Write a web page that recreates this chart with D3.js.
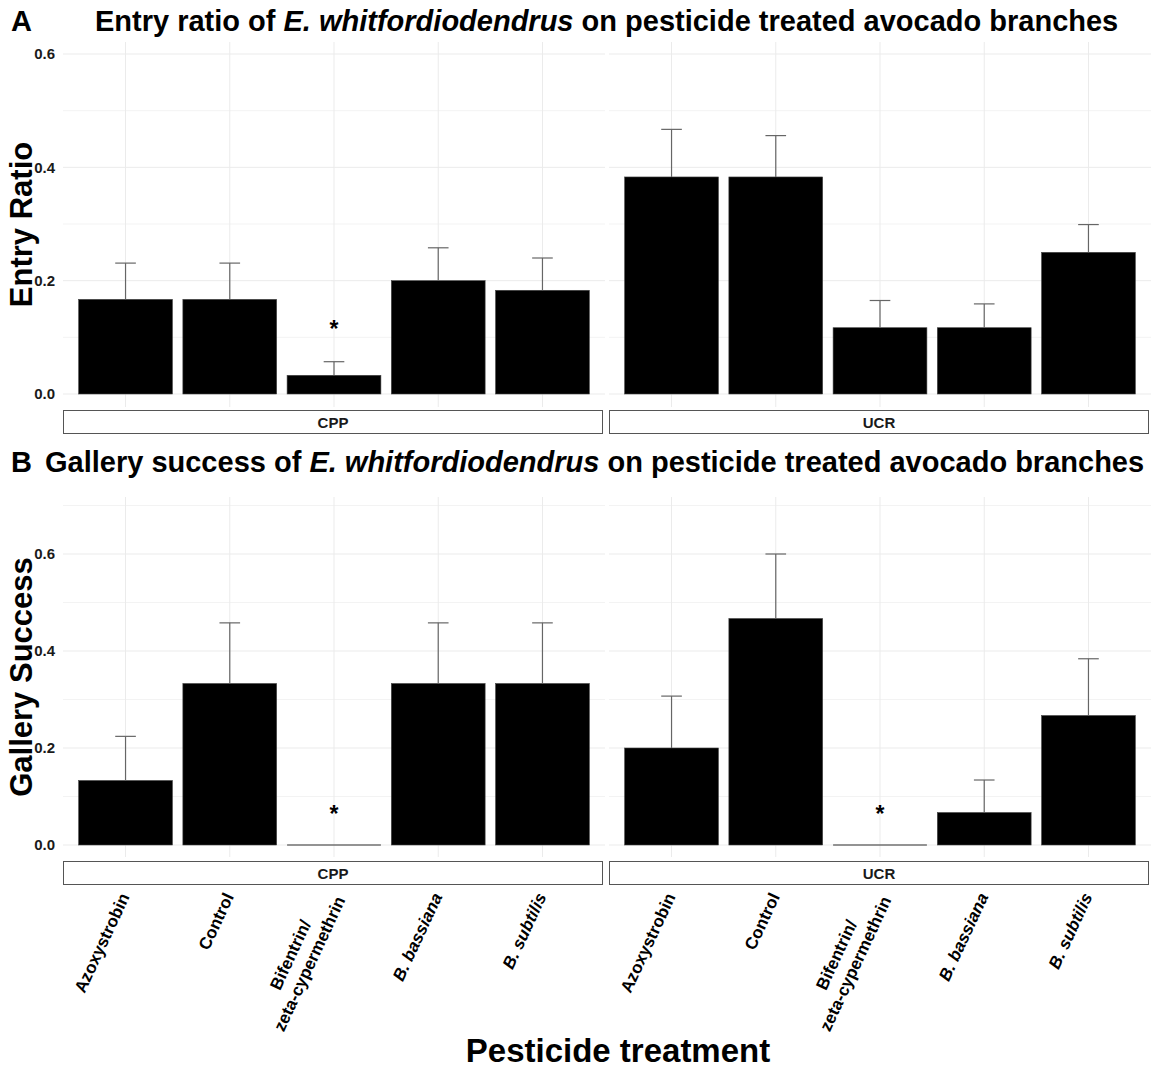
<!DOCTYPE html>
<html>
<head>
<meta charset="utf-8">
<script src="https://cdn.jsdelivr.net/npm/d3@7"></script>
<style>
  body { margin: 0; background: #fff; }
  text { font-family: "Liberation Sans", Arial, sans-serif; }
</style>
</head>
<body>
<svg id="chart"></svg>
<script>
// data
var sites = ["CPP", "UCR"];
var treatments = ["Azoxystrobin", "Control", "Bifentrin/zeta-cypermethrin", "B. bassiana", "B. subtilis"];
var treatmentLines = [["Azoxystrobin"], ["Control"], ["Bifentrin/", "zeta-cypermethrin"], ["B. bassiana"], ["B. subtilis"]];
var treatmentItalic = [false, false, false, true, true];

var entryCPP = [0.167, 0.167, 0.033, 0.200, 0.183];
var entryCPPse = [0.064, 0.064, 0.024, 0.058, 0.057];
var entryUCR = [0.383, 0.383, 0.117, 0.117, 0.250];
var entryUCRse = [0.084, 0.073, 0.048, 0.042, 0.049];

var galleryCPP = [0.133, 0.333, 0, 0.333, 0.333];
var galleryCPPse = [0.091, 0.125, 0, 0.125, 0.125];
var galleryUCR = [0.200, 0.467, 0, 0.067, 0.267];
var galleryUCRse = [0.107, 0.133, 0, 0.067, 0.117];

var entryStars = [{site: "CPP", treatment: "Bifentrin/zeta-cypermethrin", value: 0.125}];
var galleryStars = [
  {site: "CPP", treatment: "Bifentrin/zeta-cypermethrin", value: 0.077},
  {site: "UCR", treatment: "Bifentrin/zeta-cypermethrin", value: 0.077}
];

var entryTicks = [0, 0.2, 0.4, 0.6];
var entryMinor = [0.1, 0.3, 0.5];
var galleryTicks = [0, 0.2, 0.4, 0.6];
var galleryMinor = [0.1, 0.3, 0.5, 0.7];

// layout
var W = 1155, H = 1068;
var svg = d3.select("#chart").attr("width", W).attr("height", H);

var facetRange = {CPP: [63, 605], UCR: [609, 1151]};
var x = {};
sites.forEach(function(s) {
  x[s] = d3.scaleBand().domain(treatments).range(facetRange[s])
    .paddingInner(0.1).paddingOuter(0.15);
});

var panels = [
  {letter: "A", title: ["Entry ratio of ", "E. whitfordiodendrus", " on pesticide treated avocado branches"],
   titleX: 95, titleY: 31, top: 42, bottom: 407, range: [394, 54], yTitle: "Entry Ratio",
   means: {CPP: entryCPP, UCR: entryUCR}, ses: {CPP: entryCPPse, UCR: entryUCRse},
   stars: entryStars, ticks: entryTicks, minor: entryMinor, stripTop: 410},
  {letter: "B", title: ["Gallery success of ", "E. whitfordiodendrus", " on pesticide treated avocado branches"],
   titleX: 45, titleY: 472, top: 497, bottom: 857, range: [845, 554], yTitle: "Gallery Success",
   means: {CPP: galleryCPP, UCR: galleryUCR}, ses: {CPP: galleryCPPse, UCR: galleryUCRse},
   stars: galleryStars, ticks: galleryTicks, minor: galleryMinor, stripTop: 861}
];

panels.forEach(function(p) {
  var y = d3.scaleLinear().domain([0, 0.6]).range(p.range);

  // panel title
  svg.append("text").attr("x", 11).attr("y", p.titleY)
    .attr("font-size", 29).attr("font-weight", "bold").text(p.letter);
  var t = svg.append("text").attr("x", p.titleX).attr("y", p.titleY)
    .attr("font-size", 29).attr("font-weight", "bold");
  p.title.forEach(function(part, i) {
    t.append("tspan").attr("font-style", i === 1 ? "italic" : "normal").text(part);
  });

  // y axis title
  svg.append("text")
    .attr("transform", "translate(32," + ((p.top + p.bottom) / 2) + ") rotate(-90)")
    .attr("text-anchor", "middle").attr("font-size", 31).attr("font-weight", "bold")
    .text(p.yTitle);

  // y tick labels (left facet only)
  svg.append("g")
    .attr("transform", "translate(58,0)")
    .call(d3.axisLeft(y).tickValues(p.ticks).tickSize(0).tickPadding(3).tickFormat(d3.format(".1f")))
    .call(function(g) { g.select(".domain").remove(); })
    .selectAll("text")
      .attr("font-size", 15).attr("font-weight", "bold").attr("fill", "#1a1a1a")
      .style("font-family", "'Liberation Sans', Arial, sans-serif");

  sites.forEach(function(s) {
    var xs = x[s];
    var r = facetRange[s];
    var g = svg.append("g");

    // grid
    g.selectAll("line.minor").data(p.minor).enter().append("line")
      .attr("x1", r[0]).attr("x2", r[1])
      .attr("y1", function(d) { return y(d); }).attr("y2", function(d) { return y(d); })
      .attr("stroke", "#f3f3f3").attr("stroke-width", 1);
    g.selectAll("line.major").data(p.ticks).enter().append("line")
      .attr("x1", r[0]).attr("x2", r[1])
      .attr("y1", function(d) { return y(d); }).attr("y2", function(d) { return y(d); })
      .attr("stroke", "#ebebeb").attr("stroke-width", 1);
    g.selectAll("line.vgrid").data(treatments).enter().append("line")
      .attr("x1", function(d) { return xs(d) + xs.bandwidth() / 2; })
      .attr("x2", function(d) { return xs(d) + xs.bandwidth() / 2; })
      .attr("y1", p.top).attr("y2", p.bottom)
      .attr("stroke", "#ebebeb").attr("stroke-width", 1);

    var rows = treatments.map(function(tr, i) {
      return {treatment: tr, mean: p.means[s][i], se: p.ses[s][i]};
    });

    // bars
    g.selectAll("rect.bar").data(rows).enter().append("rect")
      .attr("x", function(d) { return xs(d.treatment); })
      .attr("width", xs.bandwidth())
      .attr("y", function(d) { return y(d.mean); })
      .attr("height", function(d) { return y(0) - y(d.mean); })
      .attr("fill", "#000").attr("stroke", "#444").attr("stroke-width", 0.6);
    g.selectAll("line.zero").data(rows.filter(function(d) { return d.mean === 0; })).enter().append("line")
      .attr("x1", function(d) { return xs(d.treatment); })
      .attr("x2", function(d) { return xs(d.treatment) + xs.bandwidth(); })
      .attr("y1", y(0)).attr("y2", y(0))
      .attr("stroke", "#333").attr("stroke-width", 1.2);

    // error bars (upper only)
    var eb = rows.filter(function(d) { return d.se > 0; });
    var cap = xs.bandwidth() * 0.22;
    g.selectAll("line.err").data(eb).enter().append("line")
      .attr("x1", function(d) { return xs(d.treatment) + xs.bandwidth() / 2; })
      .attr("x2", function(d) { return xs(d.treatment) + xs.bandwidth() / 2; })
      .attr("y1", function(d) { return y(d.mean); })
      .attr("y2", function(d) { return y(d.mean + d.se); })
      .attr("stroke", "#666").attr("stroke-width", 1.2);
    g.selectAll("line.cap").data(eb).enter().append("line")
      .attr("x1", function(d) { return xs(d.treatment) + xs.bandwidth() / 2 - cap / 2; })
      .attr("x2", function(d) { return xs(d.treatment) + xs.bandwidth() / 2 + cap / 2; })
      .attr("y1", function(d) { return y(d.mean + d.se); })
      .attr("y2", function(d) { return y(d.mean + d.se); })
      .attr("stroke", "#666").attr("stroke-width", 1.2);

    // significance stars
    g.selectAll("text.star").data(p.stars.filter(function(d) { return d.site === s; })).enter().append("text")
      .attr("x", function(d) { return xs(d.treatment) + xs.bandwidth() / 2; })
      .attr("y", function(d) { return y(d.value) + 14; })
      .attr("text-anchor", "middle").attr("font-size", 23).attr("font-weight", "bold")
      .text("*");

    // strip
    g.append("rect").attr("x", r[0] + 0.5).attr("y", p.stripTop + 0.5)
      .attr("width", r[1] - r[0] - 3).attr("height", 23)
      .attr("fill", "#fff").attr("stroke", "#555").attr("stroke-width", 1);
    g.append("text").attr("x", (r[0] + r[1]) / 2 - 1).attr("y", p.stripTop + 17.5)
      .attr("text-anchor", "middle").attr("font-size", 15).attr("font-weight", "bold")
      .attr("fill", "#1a1a1a").text(s);
  });
});

// x tick labels under panel B
sites.forEach(function(s) {
  var xs = x[s];
  treatments.forEach(function(tr, i) {
    var cx = xs(tr) + xs.bandwidth() / 2;
    var lines = treatmentLines[i];
    var g = svg.append("g")
      .attr("transform", "translate(" + (cx - 1) + ",894) rotate(-65)");
    if (lines.length === 1) {
      g.append("text").attr("text-anchor", "end").attr("dy", "0.35em")
        .attr("font-size", 17).attr("font-weight", "bold")
        .attr("font-style", treatmentItalic[i] ? "italic" : "normal")
        .text(lines[0]);
    } else {
      var t2 = g.append("text").attr("text-anchor", "end").attr("dy", "0.35em")
        .attr("y", 8).attr("x", 0)
        .attr("font-size", 17).attr("font-weight", "bold").text(lines[1]);
      var len = t2.node().getComputedTextLength();
      g.append("text").attr("text-anchor", "middle").attr("dy", "0.35em")
        .attr("y", -13).attr("x", -len / 2)
        .attr("font-size", 17).attr("font-weight", "bold").text(lines[0]);
    }
  });
});

// x axis title
svg.append("text").attr("x", 618).attr("y", 1062)
  .attr("text-anchor", "middle").attr("font-size", 33).attr("font-weight", "bold")
  .text("Pesticide treatment");
</script>
</body>
</html>
